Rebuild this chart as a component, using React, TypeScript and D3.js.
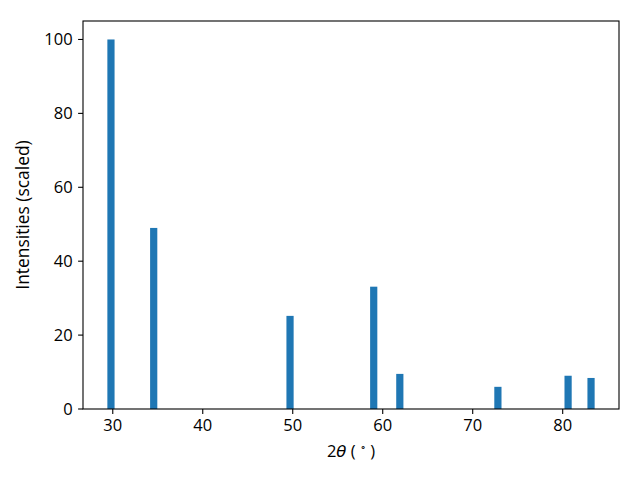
import React from 'react';
import * as d3 from 'd3';

const twoTheta = [29.8, 34.55, 49.7, 59.0, 61.9, 72.8, 80.6, 83.15];
const intensity = [100, 49, 25.2, 33.1, 9.5, 6.0, 9.0, 8.4];
const xTicks = [30, 40, 50, 60, 70, 80];
const yTicks = [0, 20, 40, 60, 80, 100];
const barWidth = 0.8;

const W = 640, H = 480;
const left = 83, right = 619, top = 21, bottom = 409;

export default function App() {
  const xmin = d3.min(twoTheta)! - barWidth / 2;
  const xmax = d3.max(twoTheta)! + barWidth / 2;
  const span = xmax - xmin;
  const x = d3.scaleLinear().domain([xmin - 0.05 * span, xmax + 0.05 * span]).range([left, right]);
  const y = d3.scaleLinear().domain([0, d3.max(intensity)! * 1.05]).range([bottom, top]);
  const font = "'Open Sans', 'Noto Sans', sans-serif";
  const fs = 16.5;
  const tl = 4.9;
  return (
    <svg width={W} height={H} style={{ position: 'absolute', left: 0, top: 0 }} fontFamily={font}>
      <rect x={0} y={0} width={W} height={H} fill="#fff" />
      {twoTheta.map((t, i) => (
        <rect key={i} x={x(t - barWidth / 2)} y={y(intensity[i])}
          width={x(t + barWidth / 2) - x(t - barWidth / 2)} height={y(0) - y(intensity[i])} fill="#1f77b4" />
      ))}
      <rect x={left} y={top} width={right - left} height={bottom - top} fill="none" stroke="#000" strokeWidth={1.1} />
      {xTicks.map(t => (
        <g key={t}>
          <line x1={x(t)} x2={x(t)} y1={bottom} y2={bottom + tl} stroke="#000" strokeWidth={1.1} />
          <text x={x(t)} y={431} textAnchor="middle" fontSize={fs}>{t}</text>
        </g>
      ))}
      {yTicks.map(t => (
        <g key={t}>
          <line x1={left - tl} x2={left} y1={y(t)} y2={y(t)} stroke="#000" strokeWidth={1.1} />
          <text x={left - tl - 5.5} y={y(t)} dy="0.36em" textAnchor="end" fontSize={fs}>{t}</text>
        </g>
      ))}
      <text x={(left + right) / 2} y={456.5} textAnchor="middle" fontSize={fs}>
        <tspan>2</tspan><tspan fontStyle="italic" fontFamily="'DejaVu Sans', sans-serif">θ</tspan><tspan> ( </tspan>
        <tspan fontSize={fs * 0.6} dy={-7}>∘</tspan><tspan dy={7}> )</tspan>
      </text>
      <text transform={`translate(29, ${(top + bottom) / 2}) rotate(-90)`} textAnchor="middle" fontSize={17.4}>
        Intensities (scaled)
      </text>
    </svg>
  );
}
